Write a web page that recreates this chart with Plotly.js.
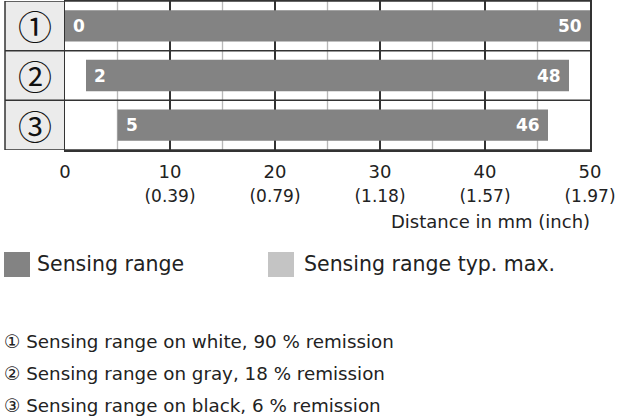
<!DOCTYPE html>
<html><head><meta charset="utf-8">
<script src="https://cdn.plot.ly/plotly-3.0.1.min.js"></script>
<style>body{margin:0;background:#fff}#c{width:620px;height:420px}</style></head>
<body><div id="c"></div>
<script>
const rows = ['①', '②', '③'];
const starts = [0, 2, 5];
const ends = [50, 48, 46];
const tickVals = [0, 10, 20, 30, 40, 50];
const tickMm = ['0', '10', '20', '30', '40', '50'];
const tickInch = ['', '(0.39)', '(0.79)', '(1.18)', '(1.57)', '(1.97)'];
const axisTitle = 'Distance in mm (inch)';
const legendNames = ['Sensing range', 'Sensing range typ. max.'];
const notes = [
  '① Sensing range on white, 90 % remission',
  '② Sensing range on gray, 18 % remission',
  '③ Sensing range on black, 6 % remission'
];

const W = 620, H = 420, L = 65, R = 30, T = 1, B = 270;
const pw = W - L - R, ph = H - T - B;
const px = x => (x - L) / pw;
const py = y => (H - B - y) / ph;
const FONT = 'DejaVu Sans';
const dark = '#838383', light = '#c4c4c4', line = '#333';
const BW = 0.63;
const rowIdx = rows.map((r, i) => i);

const tickText = tickMm.map((m, i) => tickInch[i] ? m + '<br><span style="font-size:17px">' + tickInch[i] + '</span>' : m);

// light minor gridlines halfway between the major (dark) ones, drawn as hairline bars under the range bars
const minorVals = [];
for (let k = 0; k + 1 < tickVals.length; k++) minorVals.push((tickVals[k] + tickVals[k + 1]) / 2);

const data = [
  {type: 'bar', orientation: 'v', x: minorVals, y: minorVals.map(() => rows.length), base: -0.5, width: 0.13,
   marker: {color: '#b8b8b8', line: {width: 0}}, hoverinfo: 'skip', showlegend: false},
  {type: 'bar', orientation: 'h', y: rowIdx, x: ends.map((e, i) => e - starts[i]), base: starts,
   marker: {color: dark, line: {width: 0}}, width: BW, hoverinfo: 'skip', showlegend: false}
];

const shapes = [
  {type: 'rect', xref: 'paper', yref: 'paper', x0: px(5), x1: 0, y0: 0, y1: 1, fillcolor: '#ebebeb', line: {width: 0}, layer: 'below'},
  {type: 'line', xref: 'paper', yref: 'paper', x0: px(5), x1: px(5), y0: 0, y1: 1, line: {color: line, width: 1.5}},
  {type: 'rect', xref: 'paper', yref: 'paper', x0: px(4), x1: px(30), y0: py(252), y1: py(277), fillcolor: dark, line: {width: 0}},
  {type: 'rect', xref: 'paper', yref: 'paper', x0: px(268), x1: px(294), y0: py(252), y1: py(277), fillcolor: light, line: {width: 0}}
];
for (let k = 0; k <= rows.length; k++) {
  shapes.push({type: 'line', xref: 'paper', yref: 'y', x0: px(5), x1: 1, y0: k - 0.5, y1: k - 0.5, line: {color: line, width: 1.5}});
}

const annotations = [];
rows.forEach((r, i) => {
  annotations.push({xref: 'paper', yref: 'y', x: px(35), y: i, text: r, showarrow: false, xanchor: 'center', yanchor: 'middle', font: {family: 'Noto Sans CJK JP', size: 34, color: '#111'}});
  annotations.push({xref: 'x', yref: 'y', x: starts[i], y: i, text: String(starts[i]), showarrow: false, xanchor: 'left', xshift: 6, font: {family: FONT, size: 17, color: '#fff', weight: 600}});
  annotations.push({xref: 'x', yref: 'y', x: ends[i], y: i, text: String(ends[i]), showarrow: false, xanchor: 'right', xshift: -6, font: {family: FONT, size: 17, color: '#fff', weight: 600}});
});
annotations.push({xref: 'paper', yref: 'paper', x: 1, y: py(221), text: axisTitle, showarrow: false, xanchor: 'right', yanchor: 'middle', xshift: 2, font: {family: FONT, size: 18, color: '#222'}});
annotations.push({xref: 'paper', yref: 'paper', x: px(35), y: py(264), text: legendNames[0], showarrow: false, xanchor: 'left', yanchor: 'middle', font: {family: FONT, size: 20.5, color: '#222'}});
annotations.push({xref: 'paper', yref: 'paper', x: px(302), y: py(264), text: legendNames[1], showarrow: false, xanchor: 'left', yanchor: 'middle', font: {family: FONT, size: 20.5, color: '#222'}});
[341, 373, 405].forEach((y, i) => annotations.push({xref: 'paper', yref: 'paper', x: px(2), y: py(y), text: notes[i], showarrow: false, xanchor: 'left', yanchor: 'middle', font: {family: FONT, size: 18.3, color: '#222'}}));

const layout = {
  width: W, height: H, margin: {l: L, r: R, t: T, b: B},
  paper_bgcolor: '#fff', plot_bgcolor: '#fff',
  font: {family: FONT, color: '#222'},
  barmode: 'overlay',
  xaxis: {range: [0, 50], tickmode: 'array', tickvals: tickVals, ticktext: tickText, showgrid: true, gridcolor: line, gridwidth: 1.5,
    showline: true, mirror: true, linecolor: line, linewidth: 1.5, zeroline: false, ticks: '', ticklabelstandoff: 5,
    tickfont: {size: 18, color: '#222'}, fixedrange: true},
  yaxis: {type: 'linear', range: [rows.length - 0.5, -0.5], showticklabels: false, showgrid: false,
    showline: true, mirror: true, linecolor: line, linewidth: 1.5, zeroline: false, ticks: '', fixedrange: true},
  shapes: shapes, annotations: annotations, showlegend: false
};
Plotly.newPlot('c', data, layout, {staticPlot: true});
</script></body></html>
